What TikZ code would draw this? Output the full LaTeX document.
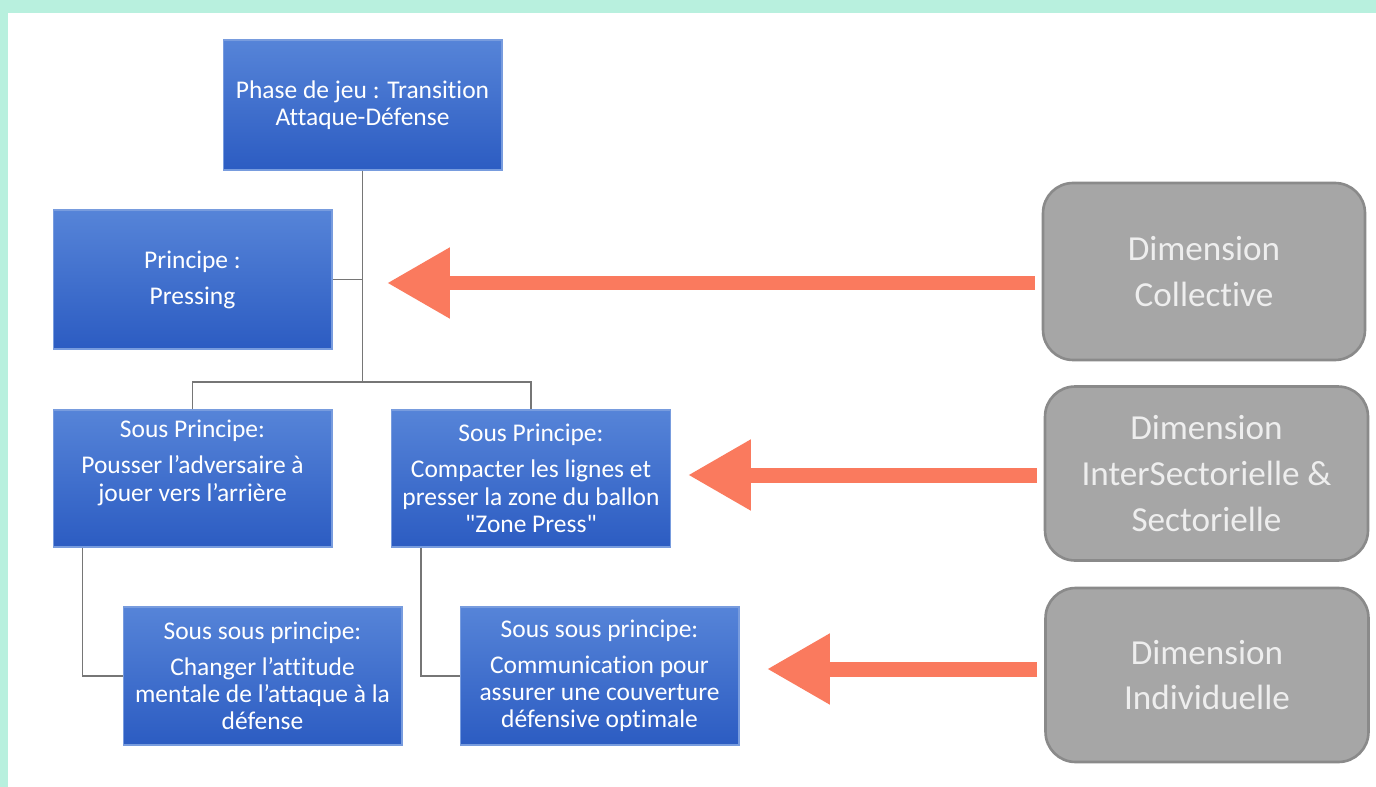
\documentclass[tikz,border=0pt]{standalone}
\usepackage{fontspec}
\setmainfont{Carlito}[Ligatures={TeX,NoCommon}]
\newfontfamily\quotefont{Carlito}[Ligatures={NoCommon}]
\usepackage{xcolor}
\usepackage{tikz}
\usetikzlibrary{shapes,arrows.meta,calc,positioning}
\definecolor{boxtop}{RGB}{86,132,216}
\definecolor{boxbot}{RGB}{44,92,194}
\definecolor{boxedge}{RGB}{120,156,222}
\definecolor{dimfill}{RGB}{166,166,166}
\definecolor{dimedge}{RGB}{138,138,138}
\definecolor{dimtext}{RGB}{238,238,238}
\definecolor{coral}{RGB}{250,122,94}
\definecolor{mint}{RGB}{184,240,222}
\definecolor{linkgray}{RGB}{118,118,118}
\newcommand{\dq}{{\quotefont\symbol{34}}}
\tikzset{
  bbox/.style={rectangle, draw=boxedge, line width=0.6pt, top color=boxtop, bottom color=boxbot, text=white, align=center, font=\fontsize{14.5}{15.5}\selectfont, minimum width=5.58cm, minimum height=2.76cm, inner sep=2pt},
  dimbox/.style={rectangle, rounded corners=0.6cm, draw=dimedge, line width=1.5pt, fill=dimfill, text=dimtext, align=center, font=\fontsize{20}{26}\selectfont, minimum width=6.46cm, minimum height=3.48cm},
  link/.style={draw=linkgray, line width=1.1pt},
  bigarrow/.style={draw=coral, line width=0.3cm, -{Triangle[length=1.26cm,width=1.34cm]}}
}
\begin{document}
\begin{tikzpicture}[x=0.02cm,y=-0.02cm]
	\useasboundingbox (0,0) rectangle (1376,787);
	\fill[mint] (0,0) rectangle (1376,787);
	\fill[white] (8,13) rectangle (1376,787);

	\node[bbox, minimum height=2.6cm] (phase) at (362.5,105) {Phase de jeu : Transition\\Attaque-Défense};
	\node[bbox, minimum height=2.78cm] (princ) at (192.5,279.5) {Principe :\\[5pt]Pressing};
	\node[bbox, minimum height=2.74cm] (sp1) at (192.5,478.5) {Sous Principe:\\[5pt]Pousser l'adversaire à\\jouer vers l'arrière\\\strut};
	\node[bbox, minimum height=2.74cm] (sp2) at (531,478.5) {Sous Principe:\\[5pt]Compacter les lignes et\\presser la zone du ballon\\\dq Zone Press\dq};
	\node[bbox] (ssp1) at (262.5,676) {Sous sous principe:\\[5pt]Changer l'attitude\\mentale de l'attaque à la\\défense};
	\node[bbox] (ssp2) at (599.5,676) {Sous sous principe:\\[5pt]Communication pour\\assurer une couverture\\défensive optimale};

	\node[dimbox, minimum width=6.44cm, minimum height=3.54cm] (dimc) at (1204,271.5) {Dimension\\Collective};
	\node[dimbox] (dimi) at (1206.5,473.5) {Dimension\\InterSectorielle \&\\Sectorielle};
	\node[dimbox] (dimv) at (1207,675) {Dimension\\Individuelle};

	\coordinate (bar) at (0,382);
	\draw[link] (phase.south) -- (phase.south |- bar);
	\draw[link] (princ.east) -- (princ.east -| phase.south);
	\draw[link] (sp1.north) -- (sp1.north |- bar) -- (sp2.north |- bar) -- (sp2.north);
	\draw[link] ([xshift=0.6cm]sp1.south west) |- (ssp1.west);
	\draw[link] ([xshift=0.6cm]sp2.south west) |- (ssp2.west);

	\coordinate (tipc) at (387,283);
	\coordinate (tipi) at (688,475);
	\coordinate (tipv) at (767,669);
	\draw[bigarrow] ([xshift=-0.14cm]dimc.west |- tipc) -- (tipc);
	\draw[bigarrow] ([xshift=-0.14cm]dimi.west |- tipi) -- (tipi);
	\draw[bigarrow] ([xshift=-0.14cm]dimv.west |- tipv) -- (tipv);
\end{tikzpicture}
\end{document}
